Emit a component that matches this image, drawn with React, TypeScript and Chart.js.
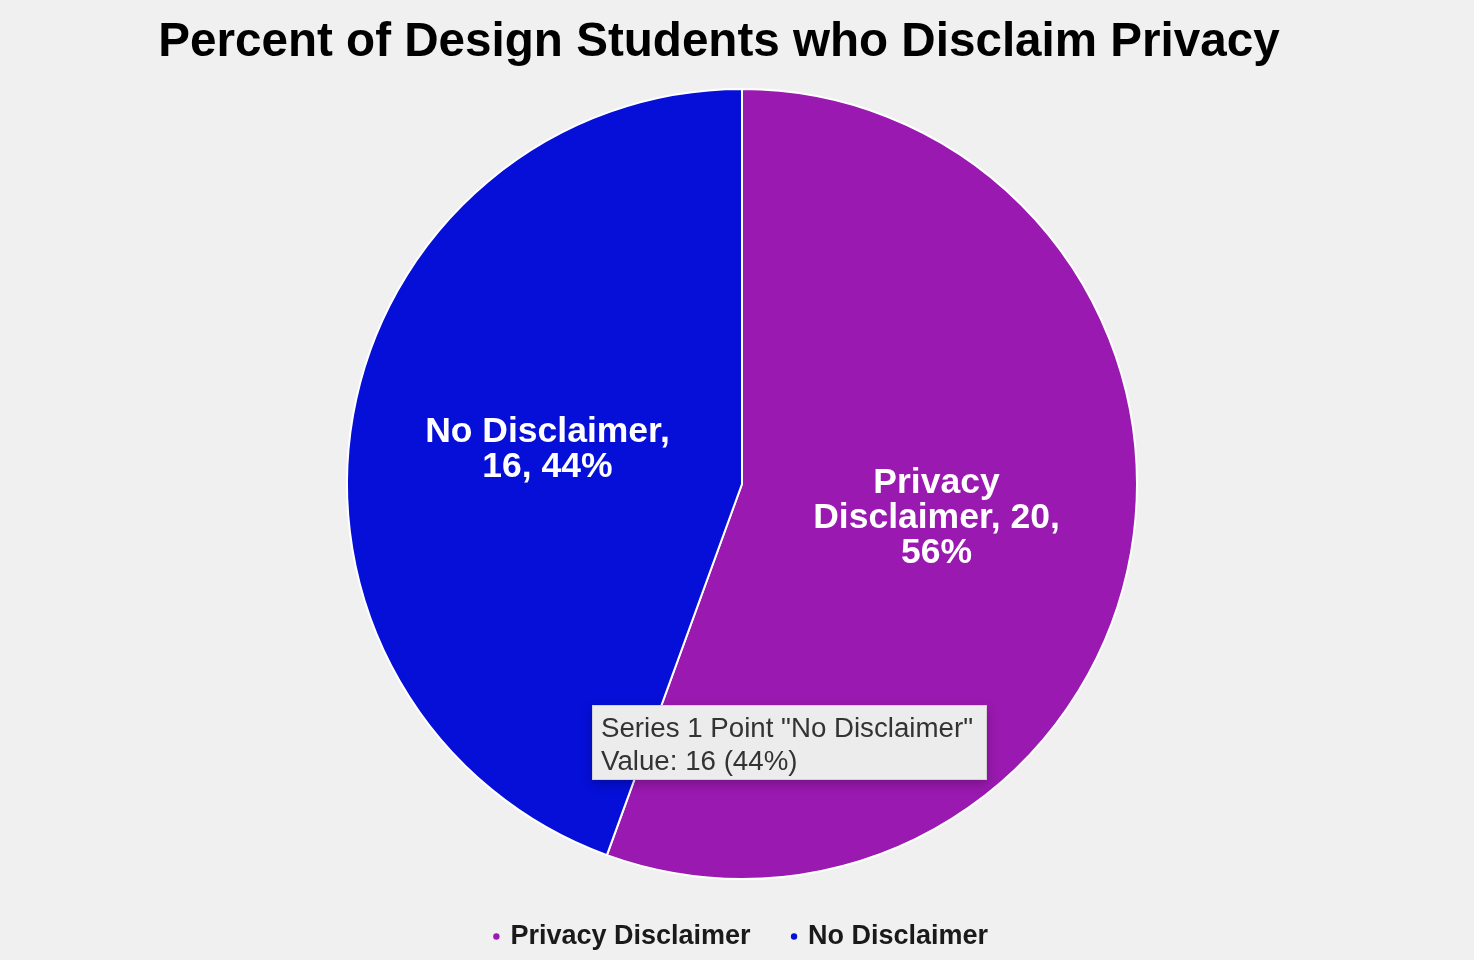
import React, { useEffect, useRef } from "react";
import { Chart, registerables } from "chart.js";

Chart.register(...registerables);

const chartTitle = "Percent of Design Students who Disclaim Privacy";
const categories = ["Privacy Disclaimer", "No Disclaimer"];
const counts = [20, 16];
const sliceColors = ["#9a19b0", "#050fd8"];
const tooltipSeries = "Series 1";
const tooltipIndex = 1;

const FONT = '"Liberation Sans", Arial, Helvetica, sans-serif';

function pct(i: number) {
  const total = counts.reduce((a, b) => a + b, 0);
  return Math.round((counts[i] / total) * 100);
}

const dataLabelPlugin = {
  id: "sliceLabels",
  afterDatasetsDraw(chart: any) {
    const ctx = chart.ctx;
    const meta = chart.getDatasetMeta(0);
    ctx.save();
    ctx.font = `bold 35.5px ${FONT}`;
    ctx.fillStyle = "#ffffff";
    ctx.textAlign = "center";
    ctx.textBaseline = "middle";
    const maxW = 272;
    const lh = 35;
    meta.data.forEach((arc: any, i: number) => {
      const text = `${categories[i]}, ${counts[i]}, ${pct(i)}%`;
      const words = text.split(" ");
      const lines: string[] = [];
      let cur = "";
      words.forEach((w) => {
        const test = cur ? cur + " " + w : w;
        if (cur && ctx.measureText(test).width > maxW) {
          lines.push(cur);
          cur = w;
        } else {
          cur = test;
        }
      });
      if (cur) lines.push(cur);
      const { x, y } = arc.getCenterPoint();
      const startY = y - ((lines.length - 1) * lh) / 2;
      lines.forEach((ln, k) => ctx.fillText(ln, x, startY + k * lh));
    });
    ctx.restore();
  },
};

export default function App() {
  const ref = useRef<HTMLCanvasElement>(null);

  useEffect(() => {
    document.body.style.margin = "0";
    document.body.style.background = "#f0f0f0";
    const defaultLabels = (Chart as any).overrides.pie.plugins.legend.labels.generateLabels;
    const chart = new Chart(ref.current as HTMLCanvasElement, {
      type: "pie",
      data: {
        labels: categories,
        datasets: [
          {
            data: counts,
            backgroundColor: sliceColors,
            borderColor: "#ffffff",
            borderWidth: 2,
          },
        ],
      },
      options: {
        responsive: false,
        animation: false,
        layout: { padding: { top: 88, left: 10, right: 0, bottom: 0 } },
        plugins: {
          title: { display: false },
          tooltip: { enabled: false },
          legend: {
            position: "bottom",
            labels: {
              usePointStyle: true,
              pointStyle: "circle",
              boxWidth: 1,
              boxHeight: 4.5,
              padding: 43,
              color: "#1a1a1a",
              font: { family: FONT, size: 27, weight: "bold" },
              generateLabels: (c: any) =>
                defaultLabels(c).map((item: any) => ({
                  ...item,
                  lineWidth: 0,
                  strokeStyle: item.fillStyle,
                })),
            },
          },
        },
      },
      plugins: [dataLabelPlugin],
    });
    return () => chart.destroy();
  }, []);

  return (
    <div style={{ position: "relative", width: 1474, height: 960, background: "#f0f0f0", overflow: "hidden" }}>
      <canvas ref={ref} width={1474} height={960} style={{ position: "absolute", left: 0, top: 0 }} />
      <div
        style={{
          position: "absolute",
          left: 0,
          top: 16,
          width: 1438,
          textAlign: "center",
          font: `bold 47.6px ${FONT}`,
          lineHeight: "48px",
          color: "#000",
        }}
      >
        {chartTitle}
      </div>
      <div
        style={{
          position: "absolute",
          left: 592,
          top: 705,
          width: 395,
          height: 75,
          boxSizing: "border-box",
          background: "#ececec",
          border: "1px solid #d2d2d2",
          boxShadow: "0 4px 10px rgba(0,0,0,0.25)",
          padding: "5px 8px",
          font: `27.7px ${FONT}`,
          lineHeight: "33px",
          color: "#333",
          whiteSpace: "nowrap",
        }}
      >
        <div>{`${tooltipSeries} Point "${categories[tooltipIndex]}"`}</div>
        <div>{`Value: ${counts[tooltipIndex]} (${pct(tooltipIndex)}%)`}</div>
      </div>
    </div>
  );
}
